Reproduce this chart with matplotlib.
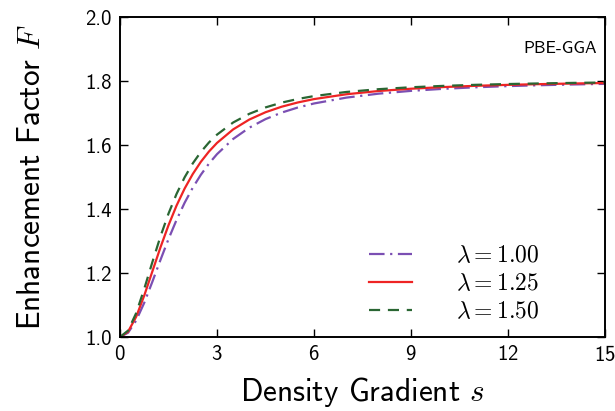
import matplotlib
matplotlib.use("Agg")
import matplotlib.pyplot as plt

plt.rcParams["font.family"] = ["cmss10", "DejaVu Sans"]
plt.rcParams["mathtext.fontset"] = "cm"
plt.rcParams["axes.formatter.use_mathtext"] = True

# ── Data ──────────────────────────────────────────────────────────────
s_vals = [0, 0.25, 0.5, 0.75, 1, 1.25, 1.5, 1.75, 2, 2.25, 2.5, 2.75, 3,
          3.5, 4, 4.5, 5, 5.5, 6, 7, 8, 9, 10, 11, 12, 13, 14, 15]
F_100 = [1.0000, 1.0135, 1.0514, 1.1070, 1.1724, 1.2404, 1.3060, 1.3661,
         1.4197, 1.4665, 1.5069, 1.5417, 1.5714, 1.6189, 1.6542, 1.6809,
         1.7013, 1.7172, 1.7298, 1.7481, 1.7605, 1.7692, 1.7756, 1.7804,
         1.7841, 1.7869, 1.7892, 1.7911]
F_125 = [1.0000, 1.0168, 1.0632, 1.1295, 1.2046, 1.2796, 1.3492, 1.4109,
         1.4641, 1.5092, 1.5474, 1.5795, 1.6065, 1.6488, 1.6796, 1.7024,
         1.7197, 1.7330, 1.7435, 1.7586, 1.7688, 1.7759, 1.7811, 1.7850,
         1.7880, 1.7903, 1.7922, 1.7937]
F_150 = [1.0000, 1.0201, 1.0747, 1.1505, 1.2336, 1.3137, 1.3856, 1.4473,
         1.4992, 1.5424, 1.5781, 1.6078, 1.6324, 1.6704, 1.6975, 1.7175,
         1.7325, 1.7439, 1.7529, 1.7658, 1.7745, 1.7805, 1.7848, 1.7881,
         1.7906, 1.7925, 1.7941, 1.7954]
labels = [r"$\lambda = 1.00$", r"$\lambda = 1.25$", r"$\lambda = 1.50$"]
x_ticks = [0, 3, 6, 9, 12, 15]
y_ticks = [1.0, 1.2, 1.4, 1.6, 1.8, 2.0]

# ── Figure ────────────────────────────────────────────────────────────
fig = plt.figure(figsize=(6.15, 4.11), dpi=100)
ax = fig.add_axes([0.1951, 0.18, 0.7886, 0.7786])

ax.plot(s_vals, F_100, color="#7b4fb3", lw=1.6, dashes=(7, 2.5, 1, 2.5),
        label=labels[0])
ax.plot(s_vals, F_125, color="#ee2424", lw=1.6, label=labels[1])
ax.plot(s_vals, F_150, color="#2a6633", lw=1.6, dashes=(5, 3.5),
        label=labels[2])

ax.set_xlim(0, 15)
ax.set_ylim(1.0, 2.0)
ax.set_xticks(x_ticks)
ax.set_yticks(y_ticks)
ax.set_yticklabels([f"{v:.1f}" for v in y_ticks])
ax.tick_params(direction="in", top=True, right=True, length=6, width=1,
               labelsize=15, pad=6)
for sp in ax.spines.values():
    sp.set_linewidth(1.4)

ax.set_xlabel(r"Density Gradient $s$", fontsize=22.5, labelpad=7)
ax.set_ylabel(r"Enhancement Factor $F$", fontsize=22.5, labelpad=28)

ax.text(0.983, 0.903, "PBE-GGA", transform=ax.transAxes, ha="right",
        va="center", fontsize=12.5)

leg = ax.legend(loc="lower right", bbox_to_anchor=(0.885, 0.015),
                frameon=False, fontsize=17, handlelength=1.8,
                handletextpad=1.9, labelspacing=0.25, borderaxespad=0)

fig.savefig("out.png", dpi=100)
